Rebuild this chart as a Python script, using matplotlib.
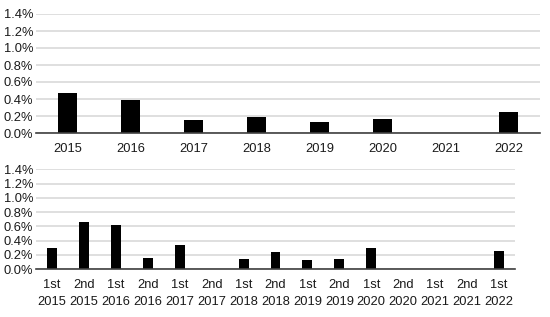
import matplotlib.pyplot as plt
from matplotlib.ticker import PercentFormatter

plt.rcParams['font.family'] = ['Liberation Sans', 'DejaVu Sans']

years = ['2015', '2016', '2017', '2018', '2019', '2020', '2021', '2022']
year_vals = [0.47, 0.39, 0.15, 0.19, 0.13, 0.16, 0.0, 0.25]

half_labels = ['1st\n2015', '2nd\n2015', '1st\n2016', '2nd\n2016', '1st\n2017',
               '2nd\n2017', '1st\n2018', '2nd\n2018', '1st\n2019', '2nd\n2019',
               '1st\n2020', '2nd\n2020', '1st\n2021', '2nd\n2021', '1st\n2022']
half_vals = [0.30, 0.655, 0.62, 0.155, 0.335, 0.0, 0.135, 0.235, 0.125, 0.135,
             0.29, 0.0, 0.0, 0.0, 0.25]


def style(ax):
    ax.set_ylim(0, 1.4)
    ax.set_yticks([0, 0.2, 0.4, 0.6, 0.8, 1.0, 1.2, 1.4])
    ax.yaxis.set_major_formatter(PercentFormatter(decimals=1))
    ax.grid(axis='y', color='#d9d9d9', lw=1.2)
    ax.set_axisbelow(True)
    for s in ['top', 'right', 'left']:
        ax.spines[s].set_visible(False)
    ax.spines['bottom'].set_color('#404040')
    ax.spines['bottom'].set_linewidth(1.2)
    ax.tick_params(length=0, labelsize=9.3, colors='#1a1a1a')
    ax.tick_params(axis='y', pad=2)


fig = plt.figure(figsize=(5.5, 3.17), dpi=100)
W, H = 550, 317

ax1 = fig.add_axes([36 / W, 1 - 133 / H, (540 - 36) / W, (133 - 14) / H])
ax1.bar(range(len(years)), year_vals, width=0.31, color='black')
ax1.set_xlim(-0.5, len(years) - 0.5)
ax1.set_xticks(range(len(years)))
ax1.set_xticklabels(years)
style(ax1)
ax1.tick_params(axis='x', pad=7)

ax2 = fig.add_axes([36 / W, 1 - 269 / H, (515 - 36) / W, (269 - 169.3) / H])
ax2.bar(range(len(half_labels)), half_vals, width=0.31, color='black')
ax2.set_xlim(-0.5, len(half_labels) - 0.5)
ax2.set_xticks(range(len(half_labels)))
ax2.set_xticklabels(half_labels, linespacing=1.6)
style(ax2)
ax2.tick_params(axis='x', pad=7)

fig.savefig('out.png', dpi=100)
